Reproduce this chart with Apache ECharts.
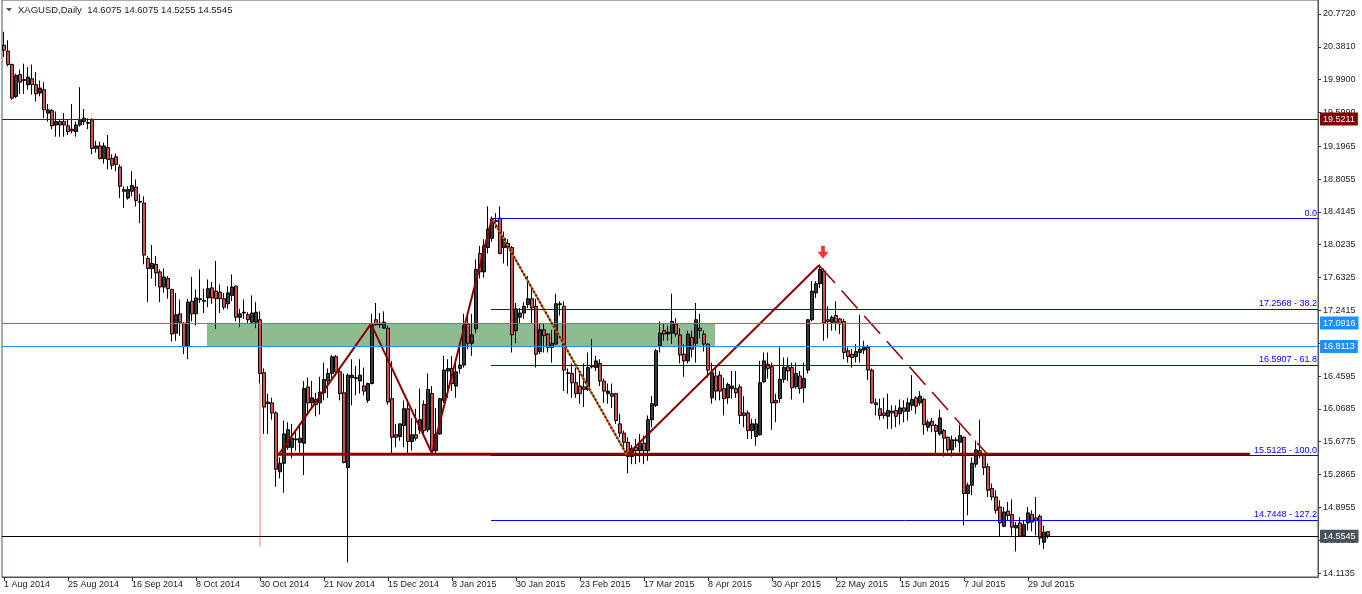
<!DOCTYPE html>
<html><head><meta charset="utf-8">
<script src="https://cdn.jsdelivr.net/npm/echarts@6/dist/echarts.min.js"></script>
<style>html,body{margin:0;padding:0;background:#fff}#c{width:1362px;height:594px}</style>
</head><body><div id="c"></div>
<script>
// ---------- data ----------
const open = [
20.40,20.33,20.17,19.79,20.05,19.99,19.93,20.00,19.93,19.83,
19.87,19.59,19.62,19.45,19.49,19.49,19.44,19.38,19.37,19.45,
19.49,19.48,19.51,19.17,19.20,19.05,19.18,19.05,19.07,18.95,
18.68,18.58,18.66,18.71,18.54,18.52,17.86,17.74,17.79,17.70,
17.52,17.62,17.49,16.97,17.20,17.09,16.81,17.35,17.20,17.37,
17.35,17.39,17.51,17.47,17.46,17.38,17.32,17.42,17.53,17.16,
17.21,17.19,17.10,17.10,17.13,16.50,16.13,16.14,16.02,15.32,
15.42,15.61,15.61,15.70,15.67,15.66,16.33,16.14,16.18,16.14,
16.26,16.40,16.49,16.69,16.51,16.26,15.37,16.44,16.43,16.40,
16.34,16.17,16.37,17.13,17.09,17.03,17.03,16.19,15.76,15.74,
15.87,16.07,15.68,15.76,15.82,16.12,15.82,16.25,15.57,15.77,
16.17,16.52,16.55,16.34,16.55,16.59,17.08,16.85,17.02,17.92,
17.70,17.99,18.10,18.31,18.34,17.99,18.04,17.99,17.00,17.16,
17.21,17.31,17.38,17.29,16.75,17.01,16.96,16.80,16.84,17.31,
17.29,16.50,16.49,16.38,16.34,16.33,16.30,16.58,16.56,16.61,
16.40,16.25,16.25,16.25,15.89,15.78,15.67,15.50,15.61,15.57,
15.66,15.57,15.94,16.11,16.82,17.00,16.96,16.97,17.08,16.95,
16.72,16.64,16.92,16.85,17.03,16.96,16.84,16.20,16.46,16.47,
16.31,16.20,16.31,16.31,16.33,16.02,16.02,15.81,15.74,15.76,
16.39,16.60,16.57,16.17,16.19,16.42,16.57,16.56,16.33,16.46,
16.32,16.53,17.13,17.45,17.56,17.71,17.13,17.10,17.18,17.14,
17.11,16.76,16.72,16.69,16.74,16.77,16.80,16.53,16.14,16.07,
16.02,15.98,16.04,16.05,16.01,16.08,16.04,16.11,16.20,16.14,
16.18,15.85,15.92,15.87,15.77,15.81,15.73,15.58,15.70,15.67,
15.73,15.06,15.16,15.41,15.57,15.52,15.38,15.12,15.02,14.90,
14.67,14.85,14.81,14.65,14.71,14.56,14.71,14.81,14.77,14.79,
14.48,14.6075];
const high = [
20.56,20.46,20.18,20.06,20.11,20.18,20.14,20.17,20.08,19.98,
19.96,19.70,19.64,19.61,19.51,19.59,19.51,19.70,19.49,19.90,
19.64,19.53,19.53,19.26,19.25,19.24,19.33,19.10,19.11,18.98,
18.72,18.72,18.90,18.80,18.63,18.60,17.89,18.02,17.89,17.73,
17.74,17.65,17.50,17.45,17.37,17.10,17.38,17.64,17.49,17.73,
17.50,17.61,17.58,17.83,17.55,17.45,17.53,17.67,17.54,17.26,
17.37,17.22,17.42,17.34,17.23,16.55,16.25,16.20,16.04,15.49,
15.93,15.91,15.89,15.79,15.87,16.40,16.44,16.40,16.26,16.45,
16.62,16.55,16.71,16.71,16.56,16.49,16.49,16.66,16.58,16.66,
16.56,16.38,17.20,17.33,17.21,17.23,17.06,16.64,15.89,15.89,
16.17,16.17,15.96,16.07,16.31,16.17,16.49,16.34,16.08,16.20,
16.70,16.66,16.70,16.64,16.80,17.20,17.20,17.20,17.85,18.01,
18.09,18.48,18.36,18.40,18.48,18.18,18.09,18.01,17.33,17.27,
17.34,17.65,17.53,17.38,17.09,17.08,16.97,17.01,17.44,17.35,
17.35,16.55,16.61,16.56,16.49,16.61,16.74,16.90,16.70,16.66,
16.43,16.37,16.37,16.26,16.01,15.81,15.73,15.64,15.71,15.77,
15.75,15.99,16.22,16.78,17.11,17.08,17.06,17.44,17.15,17.03,
16.84,17.00,17.00,17.33,17.20,17.00,16.85,16.62,16.55,16.52,
16.44,16.38,16.52,16.52,16.36,16.22,16.05,15.95,15.95,16.64,
16.74,16.74,16.62,16.25,16.80,16.68,16.68,16.62,16.62,16.52,
16.62,17.14,17.59,17.59,17.79,17.74,17.29,17.18,17.35,17.15,
17.14,16.80,16.78,16.84,17.19,16.88,16.83,16.55,16.19,16.19,
16.20,16.25,16.11,16.11,16.18,16.17,16.20,16.47,16.22,16.28,
16.20,15.94,15.96,15.89,16.06,15.83,15.74,15.75,15.73,15.88,
15.74,15.19,15.49,15.69,15.94,15.54,15.42,15.18,15.10,14.98,
14.90,14.96,14.99,14.72,14.78,14.74,14.90,14.86,15.02,14.81,
14.68,14.6075];
const low = [
20.26,20.15,19.75,19.77,19.82,19.82,19.87,19.81,19.73,19.79,
19.53,19.49,19.40,19.31,19.31,19.31,19.33,19.35,19.31,19.43,
19.45,19.40,19.10,19.12,19.04,18.99,18.92,18.92,18.90,18.58,
18.46,18.56,18.60,18.48,18.28,17.79,17.34,17.62,17.53,17.34,
17.45,17.38,16.87,16.88,16.94,16.72,16.66,17.11,17.06,17.33,
17.21,17.28,17.32,17.02,17.21,17.25,17.26,17.35,17.11,17.04,
17.14,17.09,17.08,17.03,16.37,15.77,15.77,15.94,15.14,15.24,
15.07,15.58,15.48,15.57,15.55,15.28,16.01,16.07,15.98,16.00,
16.17,16.20,16.43,16.46,16.17,15.42,14.24,16.11,16.23,16.25,
16.23,16.14,16.36,17.06,17.03,17.02,16.12,15.54,15.61,15.69,
15.61,15.54,15.57,15.69,15.77,15.77,15.79,15.55,15.54,15.76,
16.14,16.20,16.28,16.20,16.49,16.56,16.78,16.70,16.97,17.62,
17.63,17.92,18.06,18.22,17.91,17.80,17.77,16.74,16.85,17.09,
17.14,17.27,17.09,16.56,16.72,16.74,16.74,16.62,16.83,17.18,
16.28,16.25,16.20,16.20,16.13,16.09,16.28,16.55,16.52,16.34,
16.14,16.13,16.08,15.89,15.73,15.61,15.30,15.41,15.41,15.43,
15.41,15.45,15.85,16.09,16.74,16.88,16.88,16.84,16.93,16.61,
16.45,16.61,16.68,16.62,16.91,16.75,16.44,16.13,16.17,16.17,
15.99,16.13,16.19,16.20,15.89,15.85,15.71,15.71,15.63,15.75,
16.38,16.43,15.82,15.91,16.14,16.38,16.40,16.18,16.31,16.25,
16.14,16.49,17.11,17.39,17.51,16.88,16.91,17.00,17.00,16.96,
16.66,16.62,16.56,16.62,16.62,16.72,16.41,16.13,15.99,15.94,
15.95,15.83,15.83,15.85,15.88,15.91,15.93,16.05,16.01,16.11,
15.76,15.80,15.79,15.54,15.75,15.50,15.55,15.50,15.61,15.55,
14.68,14.80,15.04,15.37,15.48,15.28,15.02,14.98,14.82,14.54,
14.66,14.74,14.56,14.37,14.54,14.54,14.62,14.61,14.56,14.45,
14.40,14.5255];
const close = [
20.34,20.17,19.77,20.04,19.96,19.98,20.02,19.93,19.82,19.89,
19.63,19.63,19.44,19.49,19.45,19.45,19.37,19.40,19.45,19.51,
19.53,19.47,19.17,19.20,19.05,19.20,19.04,18.97,18.98,18.72,
18.66,18.68,18.73,18.55,18.53,17.90,17.74,17.80,17.69,17.52,
17.64,17.50,16.96,17.19,17.10,16.81,17.34,17.20,17.39,17.38,
17.36,17.50,17.39,17.38,17.38,17.28,17.45,17.52,17.16,17.20,
17.22,17.13,17.21,17.22,16.49,16.09,16.15,16.02,15.35,15.42,
15.77,15.82,15.72,15.71,15.72,16.31,16.14,16.20,16.12,16.27,
16.42,16.49,16.69,16.51,16.25,15.43,16.47,16.47,16.44,16.47,
16.28,16.37,17.07,17.07,17.07,17.10,16.15,15.73,15.73,15.89,
16.07,15.68,15.76,15.72,15.94,15.81,16.30,15.57,15.77,16.19,
16.53,16.55,16.37,16.51,16.59,17.06,16.85,16.95,17.73,17.70,
18.01,18.21,18.33,18.30,17.92,18.10,17.99,16.95,17.26,17.21,
17.29,17.38,17.27,16.72,17.01,16.94,16.80,16.85,17.32,17.32,
16.53,16.49,16.38,16.25,16.25,16.30,16.56,16.57,16.64,16.40,
16.28,16.28,16.22,15.93,15.78,15.67,15.50,15.60,15.57,15.66,
15.57,15.94,16.13,16.76,16.97,16.96,16.98,17.11,16.96,16.71,
16.64,16.96,16.78,17.13,17.00,16.84,16.53,16.50,16.28,16.28,
16.19,16.36,16.34,16.26,15.99,15.99,15.81,15.89,15.89,16.38,
16.64,16.55,16.14,16.14,16.42,16.56,16.52,16.32,16.49,16.31,
16.43,17.13,17.47,17.56,17.73,17.09,17.11,17.16,17.10,17.08,
16.74,16.69,16.68,16.75,16.78,16.80,16.53,16.14,16.12,15.99,
15.99,16.05,16.02,15.98,16.08,16.04,16.14,16.18,16.10,16.22,
15.88,15.91,15.87,15.80,15.96,15.72,15.58,15.70,15.69,15.75,
15.06,15.16,15.42,15.58,15.51,15.37,15.10,15.02,14.86,14.71,
14.84,14.80,14.66,14.68,14.55,14.69,14.83,14.72,14.74,14.53,
14.60,14.5545];

const dateTickLabels = ['1 Aug 2014','25 Aug 2014','16 Sep 2014','8 Oct 2014','30 Oct 2014','21 Nov 2014',
  '15 Dec 2014','8 Jan 2015','30 Jan 2015','23 Feb 2015','17 Mar 2015','8 Apr 2015','30 Apr 2015',
  '22 May 2015','15 Jun 2015','7 Jul 2015','29 Jul 2015'];
const priceTicks = [20.7720,20.3810,19.9900,19.5990,19.1965,18.8055,18.4145,18.0235,17.6325,17.2415,
  16.8505,16.4595,16.0685,15.6775,15.2865,14.8955,14.5045,14.1135];

const levelValues = [19.5211, 17.0916, 16.8113, 14.5545];
const zoneTop = 17.0916, zoneBottom = 16.8113;
const zoneFrom = 50.75, zoneTo = 177.75;

const fibValues = [18.335, 17.2568, 16.5907, 15.5125, 14.7448];
const fibTexts = ['0.0','17.2568 - 38.2','16.5907 - 61.8','15.5125 - 100.0','14.7448 - 127.2'];
const fibStart = 121.75;

const supportLine = [[68.25,15.527],[311.5,15.527]];
const zigzag = [[68.75,15.53],[91.75,17.08],[107,15.54],[122,18.34]];
const dottedLeg = [[122,18.34],[155.75,15.52]];
const risingLeg = [[155.75,15.52],[203.75,17.78]];
const dashedLeg = [[203.75,17.78],[246,15.52]];
const arrowPoint = [[204.75,17.935]];
const tailLine = [[64,16.37],[64,14.43]];

const titleText = 'XAGUSD,Daily  14.6075 14.6075 14.5255 14.5545';

// ---------- build ----------
const N = 329;
function buildDates(n){
  const m=['Jan','Feb','Mar','Apr','May','Jun','Jul','Aug','Sep','Oct','Nov','Dec'];
  const skip=['2014-12-25','2015-01-01'];
  const out=[]; let t=Date.UTC(2014,7,1);
  while(out.length<n){
    const d=new Date(t); const wd=d.getUTCDay(); const iso=d.toISOString().slice(0,10);
    if(wd!==0&&wd!==6&&skip.indexOf(iso)<0) out.push(d.getUTCDate()+' '+m[d.getUTCMonth()]+' '+d.getUTCFullYear());
    t+=86400000;
  }
  return out;
}
const cats = buildDates(N);
const candles = open.map((o,i)=>[o, close[i], low[i], high[i]]);
const FF = "Tahoma, 'Liberation Sans', Arial, sans-serif";
const AX = '#4b5661';
const yMax = 20.9382, yMin = 14.0661;
const showTick = (i)=> i%16===0 && i/16 < dateTickLabels.length;

const levelStyles = [
  {line:'#800000', bg:'#800000'},
  {line:'#1E90FF', bg:'#1E90FF'},
  {line:'#1E90FF', bg:'#1E90FF'},
  {line:'#000000', bg:'#48525b'}
];

const chart = echarts.init(document.getElementById('c'));
chart.setOption({
  animation:false,
  backgroundColor:'#ffffff',
  grid:{left:2, right:44, top:-2, bottom:17, show:true, borderColor:AX, borderWidth:1},
  graphic:[
    {type:'polygon', shape:{points:[[6,8],[12,8],[9,11.5]]}, style:{fill:'#555'}},
    {type:'text', left:18, top:5, style:{text:titleText, fill:'#222', font:'9.5px '+FF}}
  ],
  xAxis:[
    {type:'category', data:cats, boundaryGap:true,
     axisLine:{show:true, lineStyle:{color:AX}},
     axisTick:{show:true, alignWithLabel:true, interval:showTick, length:4, lineStyle:{color:'#333'}},
     axisLabel:{interval:showTick, formatter:(v,i)=> (i%16===0 && dateTickLabels[i/16]) ? dateTickLabels[i/16] : '',
       align:'left', margin:3, color:'#222', fontSize:9, fontFamily:FF},
     splitLine:{show:false}},
    {type:'value', min:-0.5, max:N-0.5, show:false}
  ],
  yAxis:{type:'value', position:'right', min:yMin, max:yMax,
    axisLine:{show:true, onZero:false, lineStyle:{color:AX}},
    axisTick:{show:true, customValues:priceTicks, length:3, lineStyle:{color:'#333'}},
    axisLabel:{customValues:priceTicks, formatter:v=>v.toFixed(4), margin:5, color:'#222', fontSize:9, fontFamily:FF},
    splitLine:{show:false}},
  series:[
    {type:'line', xAxisIndex:1, data:[], z:1, silent:true,
     markArea:{silent:true, itemStyle:{color:'#8FBC8F', opacity:1},
       data:[[{coord:[zoneFrom, zoneTop]},{coord:[zoneTo, zoneBottom]}]]},
     markLine:{silent:true, symbol:['none','none'], animation:false,
       data: levelValues.map((v,i)=>({yAxis:v, lineStyle:{color:levelStyles[i].line, width:1, type:'solid'},
         label:{show:true, position:'end', distance:2, formatter:()=>v.toFixed(4), color:'#fff',
           backgroundColor:levelStyles[i].bg, padding:[2,3,2,3], fontSize:9, fontFamily:FF}}))}
    },
    {type:'line', xAxisIndex:1, data:tailLine, z:1, symbol:'none', silent:true,
     lineStyle:{color:'#F08080', width:1}},
    {type:'candlestick', xAxisIndex:0, data:candles, barWidth:3, z:2,
     itemStyle:{color:'#3a3a3a', color0:'#dd4b4b', borderColor:'#000', borderColor0:'#000', borderColorDoji:'#000', borderWidth:1}},
    {type:'line', xAxisIndex:1, data:[], z:3, silent:true,
     markLine:{silent:true, symbol:['none','none'], animation:false,
       label:{show:true, position:'insideEndTop', formatter:p=>p.name, color:'#0000FF', fontSize:9, fontFamily:FF, distance:1},
       data: fibValues.map((v,i)=>[{coord:[fibStart, v], name:fibTexts[i], lineStyle:{color:'#0000FF', width:1, type:'solid', opacity:1}},{coord:[N-0.5, v]}])}
    },
    {type:'line', xAxisIndex:1, data:supportLine, z:4, symbol:'none', silent:true, lineStyle:{color:'#8B0000', width:3}},
    {type:'line', xAxisIndex:1, data:zigzag, z:4, symbol:'none', silent:true, lineStyle:{color:'#8B0000', width:2}},
    {type:'line', xAxisIndex:1, data:dottedLeg, z:4, symbol:'none', silent:true, lineStyle:{color:'#9a8a2a', width:2}},
    {type:'line', xAxisIndex:1, data:dottedLeg, z:5, symbol:'none', silent:true, lineStyle:{color:'#8B0000', width:2, type:[2,2]}},
    {type:'line', xAxisIndex:1, data:risingLeg, z:4, symbol:'none', silent:true, lineStyle:{color:'#8B0000', width:2}},
    {type:'line', xAxisIndex:1, data:dashedLeg, z:4, symbol:'none', silent:true, lineStyle:{color:'#8B0000', width:1.5, type:[24,10]}},
    {type:'scatter', xAxisIndex:1, data:arrowPoint, z:6, silent:true,
     symbol:'path://M4,0 L8,0 L8,6 L12,6 L6,13 L0,6 L4,6 Z', symbolSize:[11,13], itemStyle:{color:'#FF0000'}}
  ]
});
</script>
</body></html>
